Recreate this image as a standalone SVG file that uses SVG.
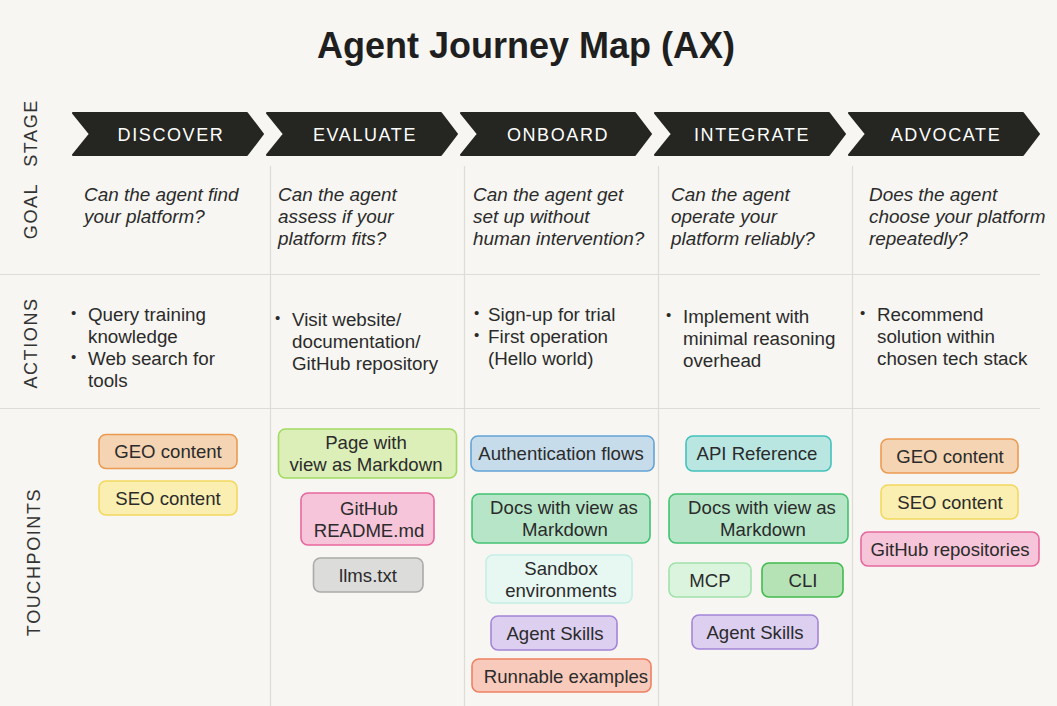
<svg xmlns="http://www.w3.org/2000/svg" width="1057" height="706" viewBox="0 0 1057 706">
<style>
text{font-family:"Liberation Sans",Arial,sans-serif;fill:#2b2b2b}
.title{font-size:36px;font-weight:bold;fill:#1f1f1f}
.chev{fill:#252522;stroke:#252522;stroke-width:2;stroke-linejoin:round}
.chevt{font-size:18px;fill:#ffffff;letter-spacing:1.6px;text-anchor:middle}
.side{font-size:18px;letter-spacing:1.6px;text-anchor:middle;fill:#333}
.goal{font-size:18.9px;font-style:italic}
.act{font-size:18.8px}
.dot{font-size:15px}
.bt{font-size:18.6px;text-anchor:middle}
.grid{stroke:#dedcd7;stroke-width:1.2;fill:none}
.box{stroke-width:1.6}
.orange{fill:#f4d4b2;stroke:#eb9a52}
.yellow{fill:#fbeeb1;stroke:#f4d85e}
.lgreen{fill:#dcefb8;stroke:#a3da62}
.pink{fill:#f6c5d9;stroke:#e7679d}
.gray{fill:#dcdcdb;stroke:#aaaaa8}
.blue{fill:#c7dcea;stroke:#63a3d6}
.green{fill:#b6e6c7;stroke:#43c271}
.mint{fill:#e7f7f2;stroke:#c5efe5}
.lav{fill:#ddcff0;stroke:#a385d8}
.salmon{fill:#f8cabb;stroke:#ef8062}
.teal{fill:#bae6e2;stroke:#43c1bc}
.pgreen{fill:#dbf4de;stroke:#a1e1aa}
.cgreen{fill:#b5e3b6;stroke:#42bb4c}
</style>
<rect x="0" y="0" width="1057" height="706" fill="#f7f6f2"/>
<text class="title" x="526" y="58" text-anchor="middle">Agent Journey Map (AX)</text>

<g id="grid" class="grid">
<line x1="0" y1="274.5" x2="1040" y2="274.5"/>
<line x1="0" y1="408.5" x2="1040" y2="408.5"/>
<line x1="270.5" y1="166" x2="270.5" y2="706"/>
<line x1="464.5" y1="166" x2="464.5" y2="706"/>
<line x1="658.5" y1="166" x2="658.5" y2="706"/>
<line x1="852.5" y1="166" x2="852.5" y2="706"/>
</g>

<g id="side-labels">
<text class="side" transform="translate(37,133) rotate(-90)">STAGE</text>
<text class="side" transform="translate(37,211) rotate(-90)">GOAL</text>
<text class="side" transform="translate(37,343) rotate(-90)">ACTIONS</text>
<text class="side" transform="translate(40,562) rotate(-90)">TOUCHPOINTS</text>
</g>

<g id="stage-discover">
<path class="chev" d="M73,113 L247,113 L263,134 L247,155 L73,155 L90,134 Z"/>
<text class="chevt" x="171" y="140.5">DISCOVER</text>
</g>
<g id="stage-evaluate">
<path class="chev" d="M267,113 L441,113 L457,134 L441,155 L267,155 L284,134 Z"/>
<text class="chevt" x="365" y="140.5">EVALUATE</text>
</g>
<g id="stage-onboard">
<path class="chev" d="M461,113 L635,113 L651,134 L635,155 L461,155 L478,134 Z"/>
<text class="chevt" x="558" y="140.5">ONBOARD</text>
</g>
<g id="stage-integrate">
<path class="chev" d="M655,113 L829,113 L845,134 L829,155 L655,155 L672,134 Z"/>
<text class="chevt" x="752" y="140.5">INTEGRATE</text>
</g>
<g id="stage-advocate">
<path class="chev" d="M849,113 L1023,113 L1039,134 L1023,155 L849,155 L866,134 Z"/>
<text class="chevt" x="946" y="140.5">ADVOCATE</text>
</g>

<g id="goals">
<text class="goal" x="84" y="201"><tspan x="84">Can the agent find</tspan><tspan x="84" dy="22">your platform?</tspan></text>
<text class="goal" x="278" y="201"><tspan x="278">Can the agent</tspan><tspan x="278" dy="22">assess if your</tspan><tspan x="278" dy="22">platform fits?</tspan></text>
<text class="goal" x="473" y="201"><tspan x="473">Can the agent get</tspan><tspan x="473" dy="22">set up without</tspan><tspan x="473" dy="22">human intervention?</tspan></text>
<text class="goal" x="671" y="201"><tspan x="671">Can the agent</tspan><tspan x="671" dy="22">operate your</tspan><tspan x="671" dy="22">platform reliably?</tspan></text>
<text class="goal" x="869" y="201"><tspan x="869">Does the agent</tspan><tspan x="869" dy="22">choose your platform</tspan><tspan x="869" dy="22">repeatedly?</tspan></text>
</g>

<g id="actions">
<text class="act dot" x="71" y="318">•</text>
<text class="act" x="88" y="321"><tspan x="88">Query training</tspan><tspan x="88" dy="22">knowledge</tspan></text>
<text class="act dot" x="71" y="362">•</text>
<text class="act" x="88" y="365"><tspan x="88">Web search for</tspan><tspan x="88" dy="22">tools</tspan></text>

<text class="act dot" x="275" y="323">•</text>
<text class="act" x="292" y="326"><tspan x="292">Visit website/</tspan><tspan x="292" dy="22">documentation/</tspan><tspan x="292" dy="22">GitHub repository</tspan></text>

<text class="act dot" x="474" y="318">•</text>
<text class="act" x="488" y="321">Sign-up for trial</text>
<text class="act dot" x="474" y="340">•</text>
<text class="act" x="488" y="343"><tspan x="488">First operation</tspan><tspan x="488" dy="22">(Hello world)</tspan></text>

<text class="act dot" x="666" y="320">•</text>
<text class="act" x="683" y="323"><tspan x="683">Implement with</tspan><tspan x="683" dy="22">minimal reasoning</tspan><tspan x="683" dy="22">overhead</tspan></text>

<text class="act dot" x="860" y="318">•</text>
<text class="act" x="877" y="321"><tspan x="877">Recommend</tspan><tspan x="877" dy="22">solution within</tspan><tspan x="877" dy="22">chosen tech stack</tspan></text>
</g>

<g id="tp-discover-geo"><rect class="box orange" x="99" y="434.5" width="138" height="34" rx="7"/><text class="bt" x="168" y="458">GEO content</text></g>
<g id="tp-discover-seo"><rect class="box yellow" x="99" y="481" width="138" height="34" rx="7"/><text class="bt" x="168" y="505">SEO content</text></g>

<g id="tp-evaluate-page"><rect class="box lgreen" x="278.5" y="429" width="178" height="49" rx="7"/><text class="bt" x="366" y="449"><tspan x="366">Page with</tspan><tspan x="366" dy="22">view as Markdown</tspan></text></g>
<g id="tp-evaluate-readme"><rect class="box pink" x="301" y="493" width="133" height="52" rx="7"/><text class="bt" x="369" y="515"><tspan x="369">GitHub</tspan><tspan x="369" dy="22">README.md</tspan></text></g>
<g id="tp-evaluate-llms"><rect class="box gray" x="313.5" y="558" width="109.5" height="34" rx="7"/><text class="bt" x="368" y="582">llms.txt</text></g>

<g id="tp-onboard-auth"><rect class="box blue" x="471" y="436" width="183" height="35" rx="7"/><text class="bt" x="561" y="460">Authentication flows</text></g>
<g id="tp-onboard-docs"><rect class="box green" x="472" y="494" width="178" height="49" rx="7"/><text class="bt" x="564" y="514"><tspan x="564">Docs with view as</tspan><tspan x="565" dy="22">Markdown</tspan></text></g>
<g id="tp-onboard-sandbox"><rect class="box mint" x="486" y="555" width="146" height="48" rx="7"/><text class="bt" x="561" y="575"><tspan x="561">Sandbox</tspan><tspan x="561" dy="22">environments</tspan></text></g>
<g id="tp-onboard-skills"><rect class="box lav" x="491" y="616" width="126" height="34" rx="7"/><text class="bt" x="555" y="640">Agent Skills</text></g>
<g id="tp-onboard-runnable"><rect class="box salmon" x="472" y="659" width="179" height="33" rx="7"/><text class="bt" x="566" y="683">Runnable examples</text></g>

<g id="tp-integrate-api"><rect class="box teal" x="686" y="436" width="145" height="35" rx="7"/><text class="bt" x="757" y="460">API Reference</text></g>
<g id="tp-integrate-docs"><rect class="box green" x="669" y="494" width="179" height="49" rx="7"/><text class="bt" x="762" y="514"><tspan x="762">Docs with view as</tspan><tspan x="763" dy="22">Markdown</tspan></text></g>
<g id="tp-integrate-mcp"><rect class="box pgreen" x="669" y="563" width="82" height="34" rx="7"/><text class="bt" x="710" y="587">MCP</text></g>
<g id="tp-integrate-cli"><rect class="box cgreen" x="762" y="563" width="81" height="34" rx="7"/><text class="bt" x="803" y="587">CLI</text></g>
<g id="tp-integrate-skills"><rect class="box lav" x="692" y="615" width="126" height="34" rx="7"/><text class="bt" x="755" y="639">Agent Skills</text></g>

<g id="tp-advocate-geo"><rect class="box orange" x="881" y="439" width="137" height="34" rx="7"/><text class="bt" x="950" y="463">GEO content</text></g>
<g id="tp-advocate-seo"><rect class="box yellow" x="881" y="485" width="137" height="34" rx="7"/><text class="bt" x="950" y="509">SEO content</text></g>
<g id="tp-advocate-github"><rect class="box pink" x="861" y="532" width="178" height="34" rx="7"/><text class="bt" x="950" y="556">GitHub repositories</text></g>
</svg>
